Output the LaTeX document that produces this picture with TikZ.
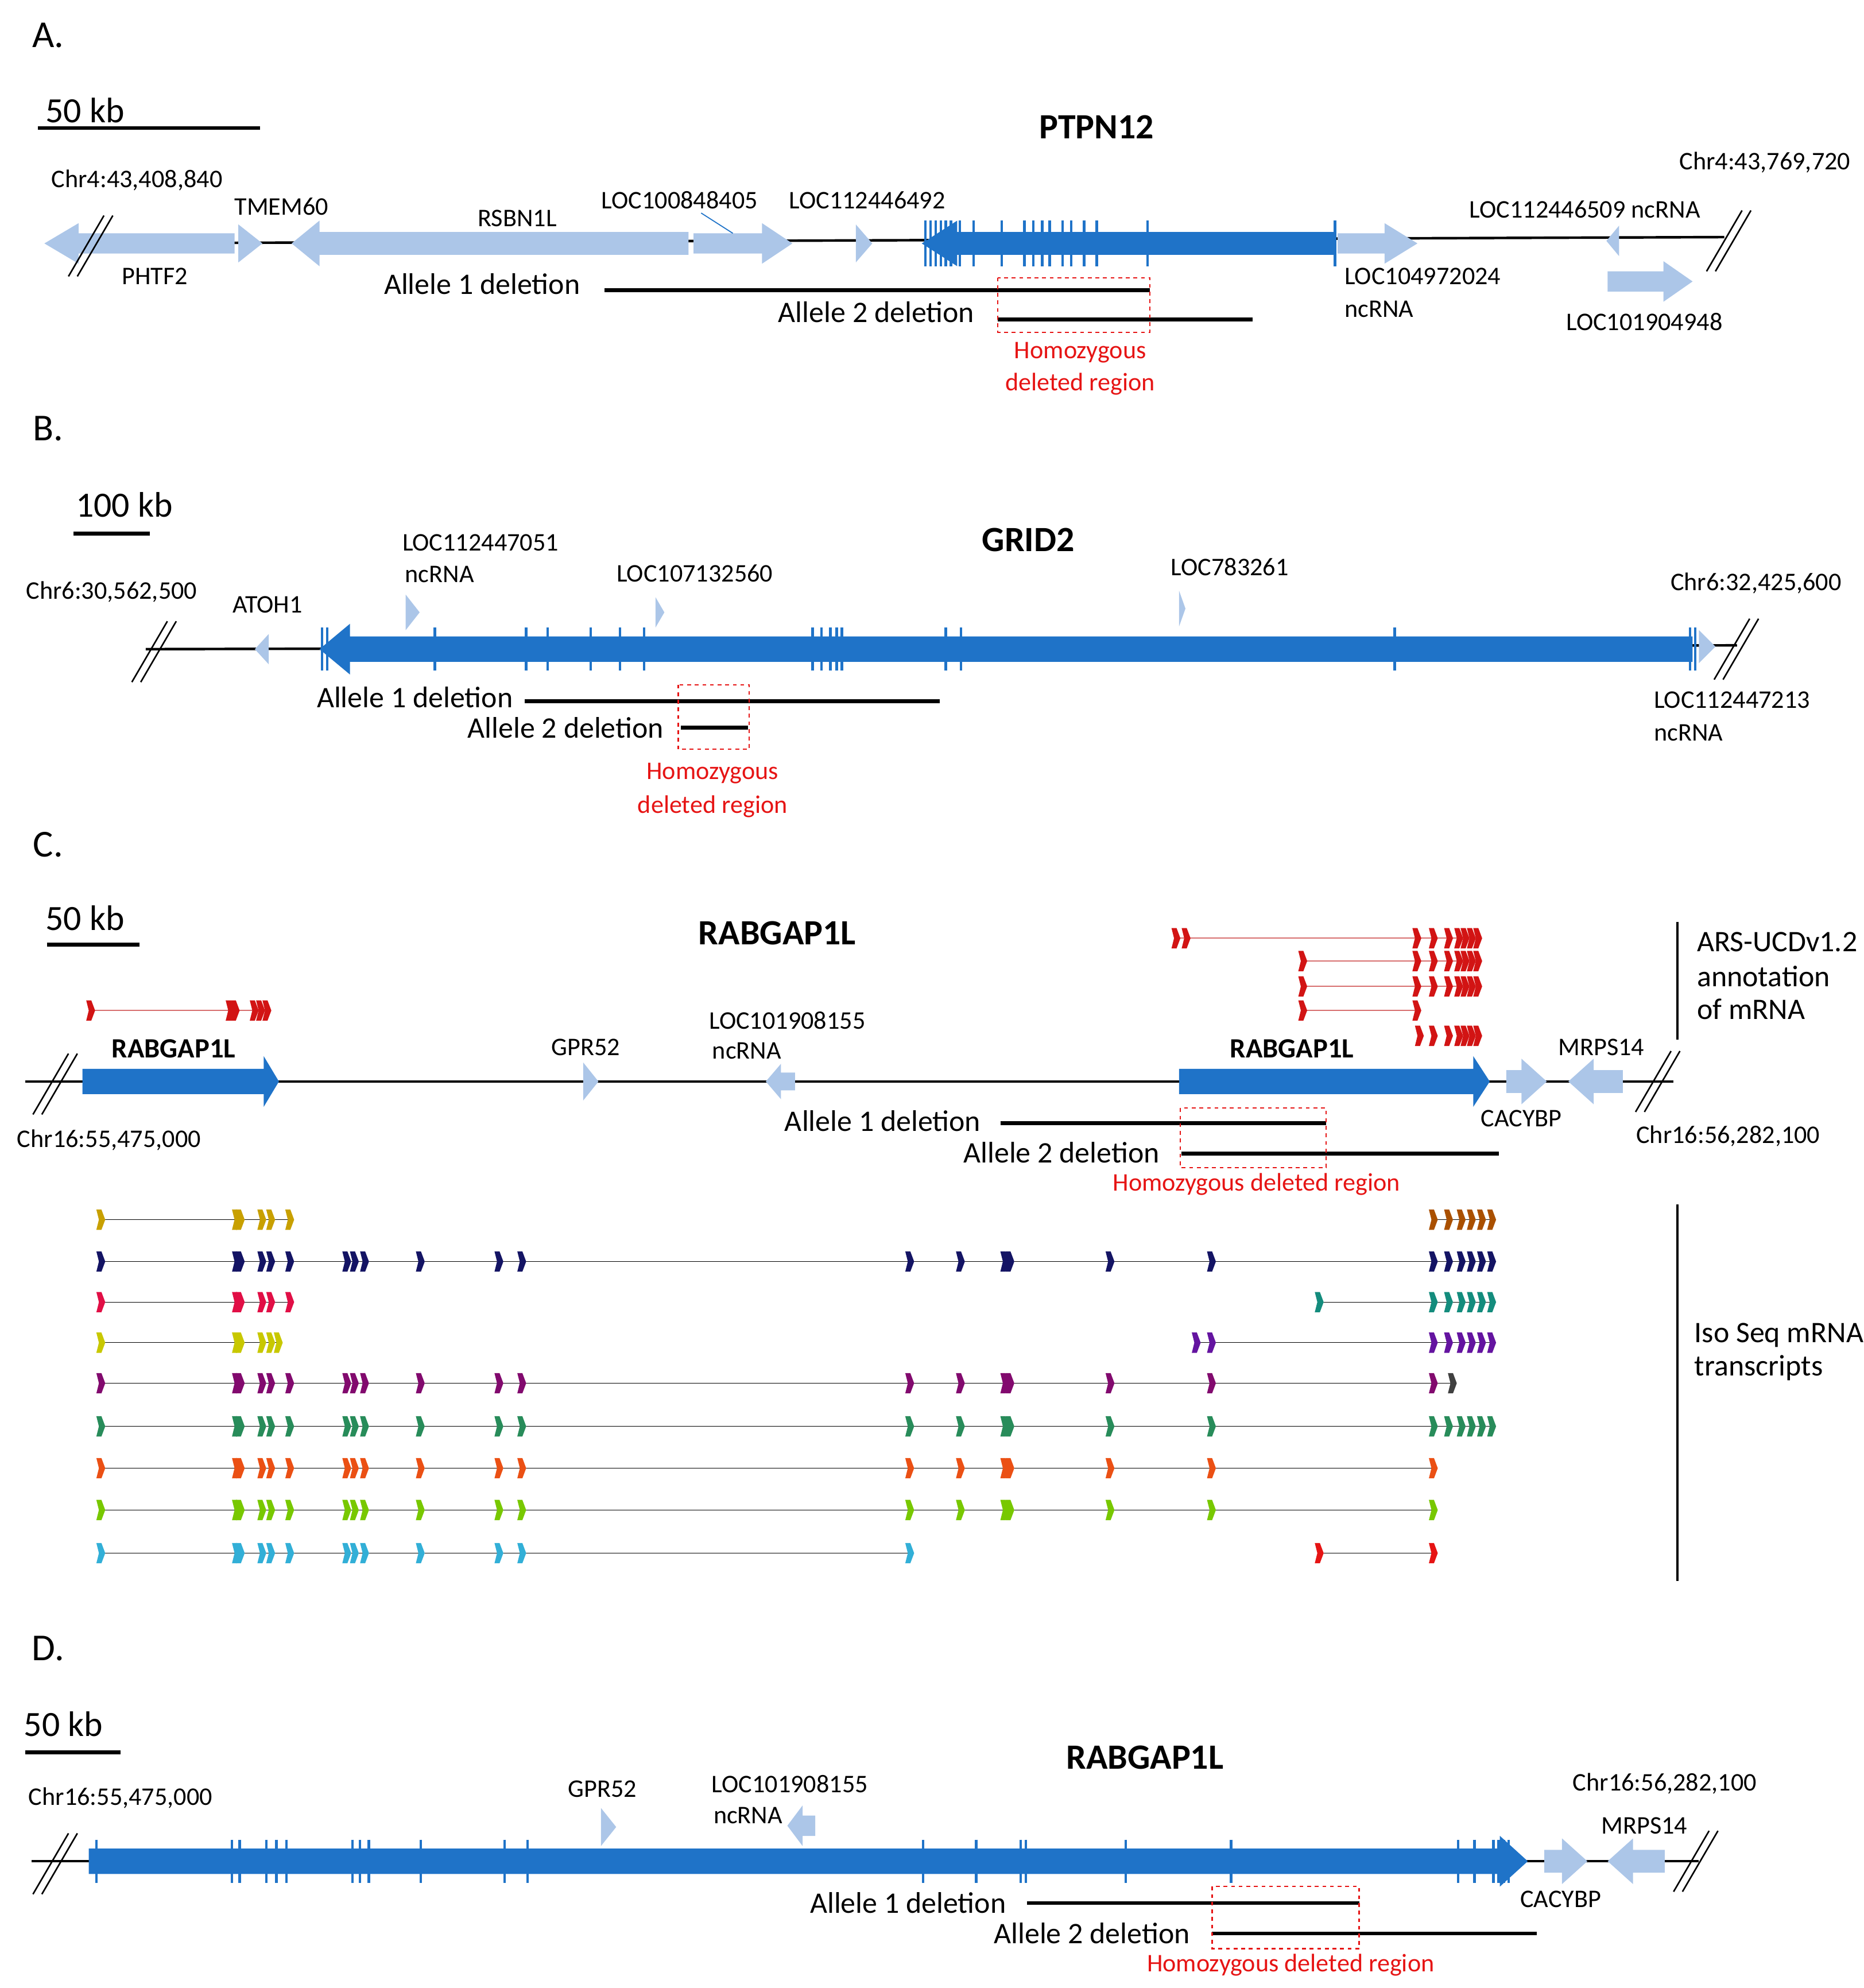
\documentclass[tikz,border=0pt]{standalone}
\usepackage{fontspec}
\setmainfont{Carlito}
\begin{document}
\definecolor{lb}{RGB}{172,198,232}
\definecolor{db}{RGB}{31,115,200}
\definecolor{rd}{RGB}{230,20,20}
\definecolor{rA}{RGB}{200,160,0}
\definecolor{rB}{RGB}{20,20,100}
\definecolor{rC}{RGB}{225,15,70}
\definecolor{rD}{RGB}{200,200,0}
\definecolor{rE}{RGB}{130,10,110}
\definecolor{rF}{RGB}{40,140,90}
\definecolor{rG}{RGB}{235,80,20}
\definecolor{rH}{RGB}{120,200,0}
\definecolor{rI}{RGB}{50,175,215}
\definecolor{tl}{RGB}{20,140,125}
\definecolor{pu}{RGB}{100,20,160}
\definecolor{br}{RGB}{170,80,0}
\definecolor{ann}{RGB}{210,20,20}
\definecolor{annl}{RGB}{215,110,110}
\newcommand\farr[6]{\pgfmathsetmacro\sg{sign(#2-#1)}\pgfmathsetmacro\xb{#2-\sg*#5}%
 \fill[#6] ({#1},{#3-#4}) -- (\xb,{#3-#4}) -- (\xb,{#3-2*#4}) -- ({#2},{#3}) -- (\xb,{#3+2*#4}) -- (\xb,{#3+#4}) -- ({#1},{#3+#4}) -- cycle;}
\newcommand\tri[5]{\fill[#5] ({#1},{#3-#4}) -- ({#2},{#3}) -- ({#1},{#3+#4}) -- cycle;}
\newcommand\exn[3]{\fill[#3] ({#1-3},{#2-8}) -- ({#1+1},{#2-8}) -- ({#1+4},{#2}) -- ({#1+1},{#2+8}) -- ({#1-3},{#2+8}) -- ({#1-1},{#2}) -- cycle;}
\newcommand\brk[2]{\draw[black,line width=1.2pt] ({#1-16},{#2+26}) -- ({#1+12},{#2-22}) ({#1-9},{#2+26}) -- ({#1+19},{#2-22});}
\newcommand\ticks[3]{\foreach \tk in {#1} {\draw[db,line width=2pt] (\tk,{#2-#3}) -- (\tk,{#2+#3});}}
\newcommand\exs[3]{\edef\tmplist{#1}\foreach \xx in \tmplist {\exn{\xx}{#2}{#3}}}
\def\setL{79,186,189,206,213,228}
\def\setM{273,279,287,331,393,411,717,757,792,796,875,955}
\def\setR{1130,1142,1152,1160,1168,1176}
\begin{tikzpicture}[x=1pt,y=-1pt,
 big/.style={font=\fontsize{23.5}{25}\selectfont},
 sm/.style={font=\fontsize{20}{22}\selectfont},
 scl/.style={font=\fontsize{28}{30}\selectfont},
 ttl/.style={font=\fontsize{28}{30}\selectfont\bfseries},
 ttls/.style={font=\fontsize{22}{24}\selectfont\bfseries},
 let/.style={font=\fontsize{30}{32}\selectfont},
 red/.style={text=rd},
 del/.style={line width=3pt},
 box/.style={rd,dashed,line width=1pt},
 annline/.style={annl,line width=1pt}]
\useasboundingbox (0,0) rectangle (1470,1568);
% ================= A
\node[let] at (38,28) {A.};
\node[scl] at (67,87) {50 kb};
\draw[line width=3pt] (30,101) -- (205,101);
\node[ttl] at (865,100) {PTPN12};
\node[sm] at (108,142) {Chr4:43,408,840};
\node[sm] at (1392,128) {Chr4:43,769,720};
\draw[line width=2pt] (60,192) -- (1360,187);
\farr{185}{35}{192}{8}{27}{lb}
\brk{70}{192}
\node[sm] at (122,218) {PHTF2};
\tri{188}{207}{192}{15}{lb}
\node[sm] at (222,163) {TMEM60};
\farr{543}{230}{192}{9}{22}{lb}
\node[sm] at (408,172) {RSBN1L};
\farr{547}{625}{192}{8}{24}{lb}
\node[sm] at (536,158) {LOC100848405};
\draw[db,line width=0.8pt] (553,168) -- (578,184);
\tri{675}{688}{192}{15}{lb}
\node[sm] at (684,158) {LOC112446492};
\farr{1053}{727}{192}{9}{28}{db}
\ticks{730,734,738,742,746,750,757,768,790,808,815,822,828,838,845,855,865,905,1053}{192}{18}
\farr{1055}{1118}{192}{8}{26}{lb}
\node[sm,anchor=west] at (1057,218) {LOC104972024};
\node[sm,anchor=west] at (1057,244) {ncRNA};
\tri{1277}{1267}{190}{12}{lb}
\node[sm] at (1250,165) {LOC112446509 ncRNA};
\farr{1268}{1335}{222}{8}{23}{lb}
\node[sm] at (1297,254) {LOC101904948};
\brk{1362}{188}
\node[big,anchor=east] at (461,224) {Allele 1 deletion};
\draw[del] (477,229) -- (907,229);
\node[big,anchor=east] at (772,246) {Allele 2 deletion};
\draw[del] (787,252) -- (988,252);
\draw[box] (787,219) rectangle (907,262);
\node[sm,red] at (852,278) {Homozygous};
\node[sm,red] at (852,303) {deleted region};
% ================= B
\node[let] at (38,338) {B.};
\node[scl] at (98,398) {100 kb};
\draw[line width=3pt] (58,421) -- (118,421);
\node[ttl] at (811,426) {GRID2};
\node[sm] at (88,467) {Chr6:30,562,500};
\node[sm] at (1385,460) {Chr6:32,425,600};
\draw[line width=2pt] (115,512) -- (1370,509);
\brk{120}{512}
\brk{1368}{510}
\tri{212}{201}{512}{12}{lb}
\node[sm] at (211,477) {ATOH1};
\farr{1335}{252}{512}{10}{24}{db}
\ticks{254,258,343,415,432,466,489,508,641,648,655,660,664,746,758,1100,1333,1337}{512}{17}
\tri{1340}{1353}{510}{13}{lb}
\node[sm] at (379,428) {LOC112447051};
\node[sm,anchor=west] at (316,453) {ncRNA};
\tri{320}{331}{483}{14}{lb}
\node[sm] at (548,452) {LOC107132560};
\tri{517}{524}{483}{12}{lb}
\node[sm] at (970,447) {LOC783261};
\tri{930}{935}{480}{14}{lb}
\node[sm,anchor=west] at (1301,552) {LOC112447213};
\node[sm,anchor=west] at (1301,578) {ncRNA};
\node[big,anchor=east] at (408,550) {Allele 1 deletion};
\draw[del] (414,553) -- (741,553);
\node[big,anchor=east] at (527,574) {Allele 2 deletion};
\draw[del] (537,574) -- (590,574);
\draw[box] (535,540) rectangle (591,591);
\node[sm,red] at (562,610) {Homozygous};
\node[sm,red] at (562,636) {deleted region};
% ================= C
\node[let] at (38,666) {C.};
\node[scl] at (67,724) {50 kb};
\draw[line width=3pt] (37,745) -- (110,745);
\node[ttl] at (613,736) {RABGAP1L};
\draw[line width=1.5pt] (1323,727) -- (1323,820);
\node[big,anchor=west] at (1335,743) {ARS-UCDv1.2};
\node[big,anchor=west] at (1335,770) {annotation};
\node[big,anchor=west] at (1335,796) {of mRNA};
% annotation mRNAs
\draw[annline] (71,797) -- (212,797);
\exs{71,181,185,200,205,210}{797}{ann}
\draw[annline] (927,740) -- (1165,740);
\exs{927,935,1117,1130,1142,1150,1155,1160,1165}{740}{ann}
\draw[annline] (1027,758) -- (1165,758);
\exs{1027,1117,1130,1142,1150,1155,1160,1165}{758}{ann}
\draw[annline] (1027,778) -- (1165,778);
\exs{1027,1117,1130,1142,1150,1155,1160,1165}{778}{ann}
\draw[annline] (1027,797) -- (1117,797);
\exs{1027,1117}{797}{ann}
\exs{1119,1130,1142,1150,1155,1160,1165}{817}{ann}
\draw[line width=2pt] (20,853) -- (1320,853);
\brk{42}{853}
\brk{1306}{851}
\farr{65}{220}{853}{10}{12}{db}
\node[ttls] at (137,827) {RABGAP1L};
\tri{460}{472}{853}{15}{lb}
\node[sm] at (462,826) {GPR52};
\node[sm] at (621,805) {LOC101908155};
\node[sm] at (589,829) {ncRNA};
\farr{627}{604}{853}{7}{12}{lb}
\farr{930}{1175}{853}{10}{13}{db}
\node[ttls] at (1019,827) {RABGAP1L};
\farr{1188}{1220}{853}{9}{20}{lb}
\node[sm] at (1200,882) {CACYBP};
\farr{1280}{1237}{853}{9}{20}{lb}
\node[sm] at (1263,826) {MRPS14};
\node[sm] at (86,899) {Chr16:55,475,000};
\node[sm] at (1363,896) {Chr16:56,282,100};
\node[big,anchor=east] at (777,884) {Allele 1 deletion};
\draw[del] (789,886) -- (1046,886);
\node[big,anchor=east] at (918,909) {Allele 2 deletion};
\draw[del] (932,910) -- (1182,910);
\draw[box] (931,874) rectangle (1046,921);
\node[sm,red] at (991,934) {Homozygous deleted region};
% Iso-seq
\draw[line width=1.5pt] (1323,950) -- (1323,1247);
\node[big,anchor=west] at (1333,1053) {Iso Seq mRNA};
\node[big,anchor=west] at (1333,1079) {transcripts};
% row1
\draw (79,962) -- (228,962); \draw (1130,962) -- (1180,962);
\exs{\setL}{962}{rA}
\exs{\setR}{962}{br}
% row2
\draw (79,995) -- (1180,995);
\exs{\setL}{995}{rB}
\exs{\setM}{995}{rB}
\exs{\setR}{995}{rB}
% row3
\draw (79,1027) -- (228,1027); \draw (1040,1027) -- (1178,1027);
\exs{\setL}{1027}{rC}
\exs{1040,1130,1142,1152,1160,1168,1176}{1027}{tl}
% row4
\draw (79,1059) -- (220,1059); \draw (943,1059) -- (1178,1059);
\exs{79,186,189,206,213,219}{1059}{rD}
\exs{943,955,1130,1142,1152,1160,1168,1176}{1059}{pu}
% row5
\draw (79,1091) -- (1145,1091);
\exs{\setL}{1091}{rE}
\exs{\setM}{1091}{rE}
\exn{1130}{1091}{rE}
\exn{1145}{1091}{darkgray}
% row6
\draw (79,1125) -- (1176,1125);
\exs{\setL}{1125}{rF}
\exs{\setM}{1125}{rF}
\exs{\setR}{1125}{rF}
% row7
\draw (79,1158) -- (1130,1158);
\exs{\setL}{1158}{rG}
\exs{\setM}{1158}{rG}
\exn{1130}{1158}{rG}
% row8
\draw (79,1191) -- (1130,1191);
\exs{\setL}{1191}{rH}
\exs{\setM}{1191}{rH}
\exn{1130}{1191}{rH}
% row9
\draw (79,1225) -- (717,1225);
\exs{\setL}{1225}{rI}
\exs{273,279,287,331,393,411,717}{1225}{rI}
\draw (1040,1225) -- (1130,1225);
\exn{1040}{1225}{rd}
\exn{1130}{1225}{rd}
% ================= D
\node[let] at (38,1300) {D.};
\node[scl] at (50,1360) {50 kb};
\draw[line width=3pt] (20,1382) -- (95,1382);
\node[ttl] at (903,1386) {RABGAP1L};
\node[sm] at (95,1418) {Chr16:55,475,000};
\node[sm] at (1313,1407) {Chr16:56,282,100};
\draw[line width=2pt] (25,1468) -- (1340,1468);
\brk{42}{1468}
\brk{1336}{1466}
\farr{70}{1205}{1468}{10}{22}{db}
\ticks{76,183,189,210,218,226,278,284,291,332,398,416,728,770,805,809,888,971,1150,1163,1178,1182,1186,1190}{1468}{17}
\tri{474}{486}{1441}{15}{lb}
\node[sm] at (475,1411) {GPR52};
\node[sm] at (623,1407) {LOC101908155};
\node[sm] at (590,1432) {ncRNA};
\farr{643}{621}{1440}{8}{12}{lb}
\farr{1218}{1252}{1468}{9}{20}{lb}
\node[sm] at (1231,1498) {CACYBP};
\farr{1313}{1268}{1468}{9}{20}{lb}
\node[sm] at (1297,1440) {MRPS14};
\node[big,anchor=east] at (797,1501) {Allele 1 deletion};
\draw[del] (810,1501) -- (1072,1501);
\node[big,anchor=east] at (942,1525) {Allele 2 deletion};
\draw[del] (956,1525) -- (1212,1525);
\draw[box] (956,1488) rectangle (1072,1537);
\node[sm,red] at (1018,1550) {Homozygous deleted region};
\end{tikzpicture}
\end{document}
